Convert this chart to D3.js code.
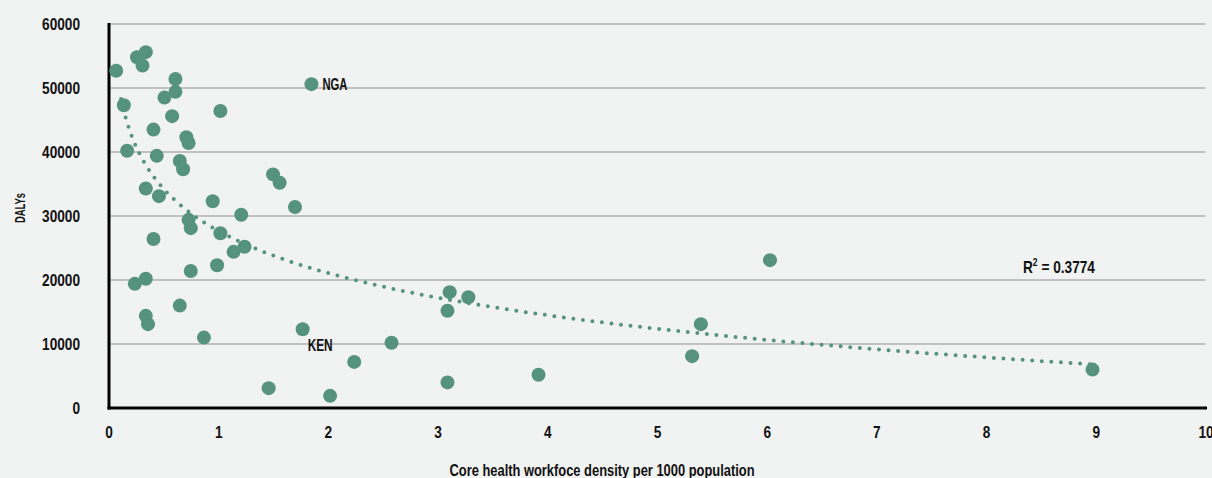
<!DOCTYPE html>
<html>
<head>
<meta charset="utf-8">
<script src="https://cdn.jsdelivr.net/npm/d3@7"></script>
<style>
  html, body { margin: 0; padding: 0; background: #f1f3f2; }
  svg { display: block; }
  text { font-family: "Liberation Sans", Arial, sans-serif; font-weight: 700; fill: #111; }
</style>
</head>
<body>
<svg id="chart" width="1212" height="478"></svg>
<script>
// core health workforce density per 1000 population
var density = [0.07, 0.26, 0.34, 0.31, 0.61, 0.61, 0.51, 0.14, 1.02, 0.58,
               0.41, 0.71, 0.73, 0.17, 0.44, 0.65, 0.68, 1.50, 1.56, 0.34,
               0.46, 1.70, 0.95, 1.21, 0.73, 0.75, 1.02, 1.85, 0.41, 1.14,
               1.24, 0.75, 0.99, 0.24, 0.34, 0.65, 0.34, 0.36, 0.87, 1.77,
               2.24, 1.46, 2.02, 2.58, 3.11, 3.28, 3.09, 3.09, 3.92, 5.40,
               5.32, 6.03, 8.97];
// DALYs
var dalys = [52700, 54800, 55600, 53500, 51400, 49400, 48500, 47300, 46400, 45600,
             43500, 42300, 41400, 40200, 39400, 38600, 37300, 36500, 35200, 34300,
             33100, 31400, 32300, 30200, 29400, 28100, 27300, 50600, 26400, 24400,
             25200, 21400, 22300, 19400, 20200, 16000, 14400, 13100, 11000, 12300,
             7200, 3100, 1900, 10200, 18100, 17300, 15200, 4000, 5200, 13100,
             8100, 23100, 6000];
// labelled countries: index into the arrays above
var labelNames = ["NGA", "KEN"];
var labelIndex = [27, 39];
var xTicks = [0, 1, 2, 3, 4, 5, 6, 7, 8, 9, 10];
var yTicks = [0, 10000, 20000, 30000, 40000, 50000, 60000];
var rSquared = "0.3774";

var color = "#56937f";
var svg = d3.select("#chart");

var x = d3.scaleLinear().domain([0, 10]).range([108.5, 1205.5]);
var y = d3.scaleLinear().domain([0, 60000]).range([408, 24]);

var points = density.map(function(d, i) { return { x: d, y: dalys[i] }; });

// squeeze text horizontally around its own x (condensed look)
function squeeze(sel, s) {
    sel.each(function() {
        var x0 = +this.getAttribute("x") || 0;
        d3.select(this).attr("transform",
            "translate(" + x0 + ",0) scale(" + s + ",1) translate(" + (-x0) + ",0)");
    });
}

// gridlines
svg.append("g")
    .selectAll("line")
    .data(yTicks.filter(function(d) { return d > 0; }))
    .enter().append("line")
    .attr("x1", x(0)).attr("x2", x(10))
    .attr("y1", function(d) { return y(d); })
    .attr("y2", function(d) { return y(d); })
    .attr("stroke", "#c1c1c1")
    .attr("stroke-width", 2);

// axes
var yAxis = svg.append("g")
    .attr("transform", "translate(80,0)")
    .call(d3.axisLeft(y).tickValues(yTicks).tickSize(0).tickPadding(0).tickFormat(d3.format("d")));
yAxis.select(".domain").remove();
yAxis.selectAll("text").attr("font-size", 16).attr("dy", "0.36em");

var xAxis = svg.append("g")
    .attr("transform", "translate(0,427)")
    .call(d3.axisBottom(x).tickValues(xTicks).tickSize(0).tickPadding(0).tickFormat(d3.format("d")));
xAxis.select(".domain").remove();
xAxis.selectAll("text").attr("font-size", 16).attr("dy", "0.71em");

var tickScale = 38 / yAxis.select(".tick:last-of-type text").node().getComputedTextLength();
squeeze(yAxis.selectAll("text"), tickScale);
squeeze(xAxis.selectAll("text"), tickScale);

svg.append("line")
    .attr("x1", x(0) + 0.5).attr("x2", x(0) + 0.5)
    .attr("y1", y(60000) - 1).attr("y2", y(0) + 1.5)
    .attr("stroke", "#000").attr("stroke-width", 3);
svg.append("line")
    .attr("x1", x(0) - 1).attr("x2", x(10) + 1.5)
    .attr("y1", y(0)).attr("y2", y(0))
    .attr("stroke", "#000").attr("stroke-width", 3);

// logarithmic trend line (least squares on ln x)
var lx = points.map(function(p) { return Math.log(p.x); });
var mx = d3.mean(lx), my = d3.mean(dalys);
var b = d3.sum(points, function(p, i) { return (lx[i] - mx) * (p.y - my); }) /
        d3.sum(lx, function(v) { return (v - mx) * (v - mx); });
var a = my - b * mx;
var xmin = d3.min(density), xmax = d3.max(density);
var trend = d3.range(0, 201).map(function(i) {
    var xv = xmin + (xmax - xmin) * i / 200;
    return [xv, a + b * Math.log(xv)];
}).filter(function(d) { return d[1] <= 50000; });

svg.append("path")
    .datum(trend)
    .attr("fill", "none")
    .attr("stroke", color)
    .attr("stroke-width", 4)
    .attr("stroke-linecap", "round")
    .attr("stroke-dasharray", "0 9.6")
    .attr("d", d3.line().x(function(d) { return x(d[0]); }).y(function(d) { return y(d[1]); }));

// points
svg.append("g")
    .selectAll("circle")
    .data(points)
    .enter().append("circle")
    .attr("cx", function(d) { return x(d.x); })
    .attr("cy", function(d) { return y(d.y); })
    .attr("r", 7)
    .attr("fill", color);

// country labels
var labelOffsets = [[11, 0], [5, 16]];
labelNames.forEach(function(name, i) {
    var p = points[labelIndex[i]];
    var t = svg.append("text")
        .attr("x", x(p.x) + labelOffsets[i][0])
        .attr("y", y(p.y) + labelOffsets[i][1])
        .attr("dy", "0.36em")
        .attr("font-size", 16)
        .text(name);
    squeeze(t, 25 / t.node().getComputedTextLength());
});

// R squared
var r2 = svg.append("text")
    .attr("x", 1023).attr("y", 273)
    .attr("font-size", 16);
r2.append("tspan").text("R");
r2.append("tspan").attr("font-size", 10).attr("dy", -7).text("2");
r2.append("tspan").attr("dy", 7).text(" = " + rSquared);
squeeze(r2, 72 / r2.node().getComputedTextLength());

// axis titles
svg.append("text")
    .attr("x", 602).attr("y", 476)
    .attr("text-anchor", "middle")
    .attr("font-size", 16)
    .attr("textLength", 305)
    .attr("lengthAdjust", "spacingAndGlyphs")
    .text("Core health workfoce density per 1000 population");

svg.append("text")
    .attr("transform", "translate(25,208) rotate(-90)")
    .attr("text-anchor", "middle")
    .attr("font-size", 15)
    .attr("textLength", 30)
    .attr("lengthAdjust", "spacingAndGlyphs")
    .text("DALYs");
</script>
</body>
</html>
